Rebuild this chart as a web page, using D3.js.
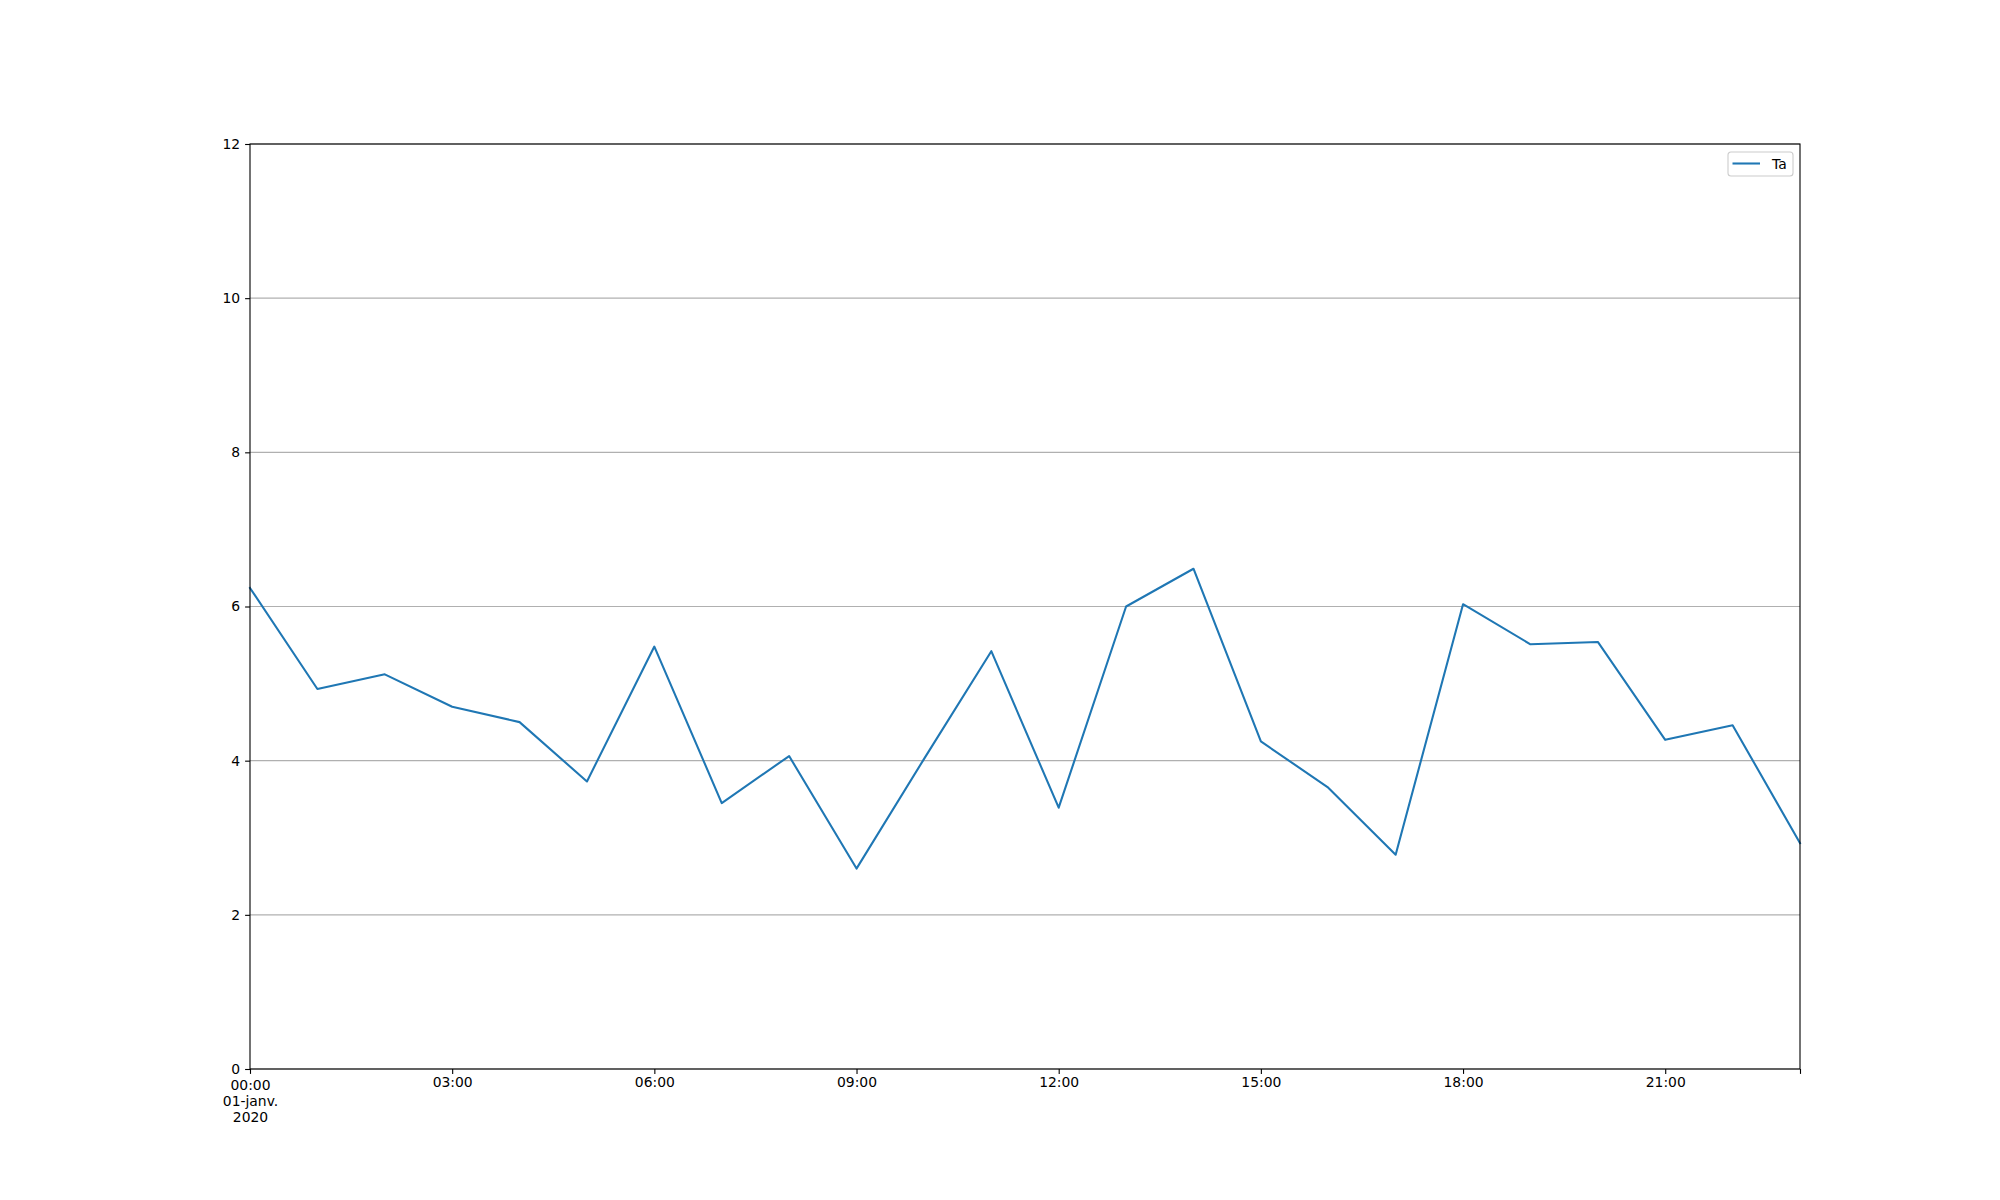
<!DOCTYPE html>
<html>
<head>
<meta charset="utf-8">
<script src="https://cdn.jsdelivr.net/npm/d3@7"></script>
<style>
html,body{margin:0;padding:0;background:#fff;}
svg{display:block;font-family:"DejaVu Sans",sans-serif;}
</style>
</head>
<body>
<svg id="chart" width="2000" height="1200"></svg>
<script>
// Data: hourly values of Ta on 2020-01-01
const hours = [0,1,2,3,4,5,6,7,8,9,10,11,12,13,14,15,16,17,18,19,20,21,22,23];
const taValues = [6.24,4.93,5.12,4.70,4.50,3.73,5.48,3.45,4.06,2.60,4.02,5.42,3.39,6.00,6.49,4.25,3.65,2.78,6.03,5.51,5.54,4.27,4.46,2.93];
const seriesName = "Ta";
const yTicks = [0,2,4,6,8,10,12];
const xTickHours = [0,3,6,9,12,15,18,21,23];
const xTickLabels = ["00:00\n01-janv.\n2020","03:00","06:00","09:00","12:00","15:00","18:00","21:00",""];

const W = 2000, H = 1200;
const margin = {left:250, right:200, top:144, bottom:131};
const iw = W - margin.left - margin.right;
const ih = H - margin.top - margin.bottom;

const toDate = h => new Date(Date.UTC(2020,0,1,h));
const data = hours.map((h,i)=>({t:toDate(h), v:taValues[i]}));

const svg = d3.select("#chart");
const g = svg.append("g").attr("transform",`translate(${margin.left},${margin.top})`);

const x = d3.scaleUtc().domain([toDate(0), toDate(23)]).range([0, iw]);
const y = d3.scaleLinear().domain([0,12]).range([ih, 0]);

// grid
g.append("g").selectAll("line").data(yTicks).join("line")
  .attr("x1",0).attr("x2",iw)
  .attr("y1",d=>y(d)).attr("y2",d=>y(d))
  .attr("stroke","#b0b0b0").attr("stroke-width",1.1);

// line
const line = d3.line().x(d=>x(d.t)).y(d=>y(d.v));
g.append("path").datum(data)
  .attr("fill","none").attr("stroke","#1f77b4").attr("stroke-width",2.08)
  .attr("stroke-linejoin","round").attr("stroke-linecap","square")
  .attr("d",line);

// frame
g.append("rect").attr("x",0).attr("y",0).attr("width",iw).attr("height",ih)
  .attr("fill","none").attr("stroke","#000").attr("stroke-width",1.1);

// y axis
const yAxis = d3.axisLeft(y).tickValues(yTicks).tickSize(4.9).tickPadding(4.9).tickFormat(d3.format("d"));
const ya = g.append("g").call(yAxis);
ya.select(".domain").remove();
ya.selectAll(".tick line").attr("stroke","#000").attr("stroke-width",1.1);
ya.selectAll(".tick text").attr("font-size","13.9px").attr("fill","#000")
  .attr("font-family","DejaVu Sans");

// x axis
const xAxis = d3.axisBottom(x).tickValues(xTickHours.map(toDate)).tickSize(4.9).tickPadding(4.9)
  .tickFormat((d,i)=>xTickLabels[i]);
const xa = g.append("g").attr("transform",`translate(0,${ih})`).call(xAxis);
xa.select(".domain").remove();
xa.selectAll(".tick line").attr("stroke","#000").attr("stroke-width",1.1);
xa.selectAll(".tick text").each(function(d,i){
  const t = d3.select(this);
  const lines = xTickLabels[i].split("\n");
  t.text(null).attr("font-size","13.9px").attr("fill","#000").attr("font-family","DejaVu Sans")
   .attr("dy",null).attr("y",0);
  const base = lines.length>1 ? 20.5 : 18;
  lines.forEach((s,k)=>{
    t.append("tspan").attr("x",0).attr("y",base + k*16).text(s);
  });
});

// legend
const lg = g.append("g").attr("transform",`translate(${iw-72},${8})`);
lg.append("rect").attr("x",0).attr("y",0).attr("width",65).attr("height",24)
  .attr("rx",3).attr("fill","#fff").attr("fill-opacity",0.8)
  .attr("stroke","#cccccc").attr("stroke-width",1.1);
lg.append("line").attr("x1",4.5).attr("x2",32).attr("y1",11.5).attr("y2",11.5)
  .attr("stroke","#1f77b4").attr("stroke-width",2.08);
lg.append("text").attr("x",44).attr("y",16.5).attr("font-size","13.9px")
  .attr("font-family","DejaVu Sans").attr("fill","#000").text(seriesName);
</script>
</body>
</html>
